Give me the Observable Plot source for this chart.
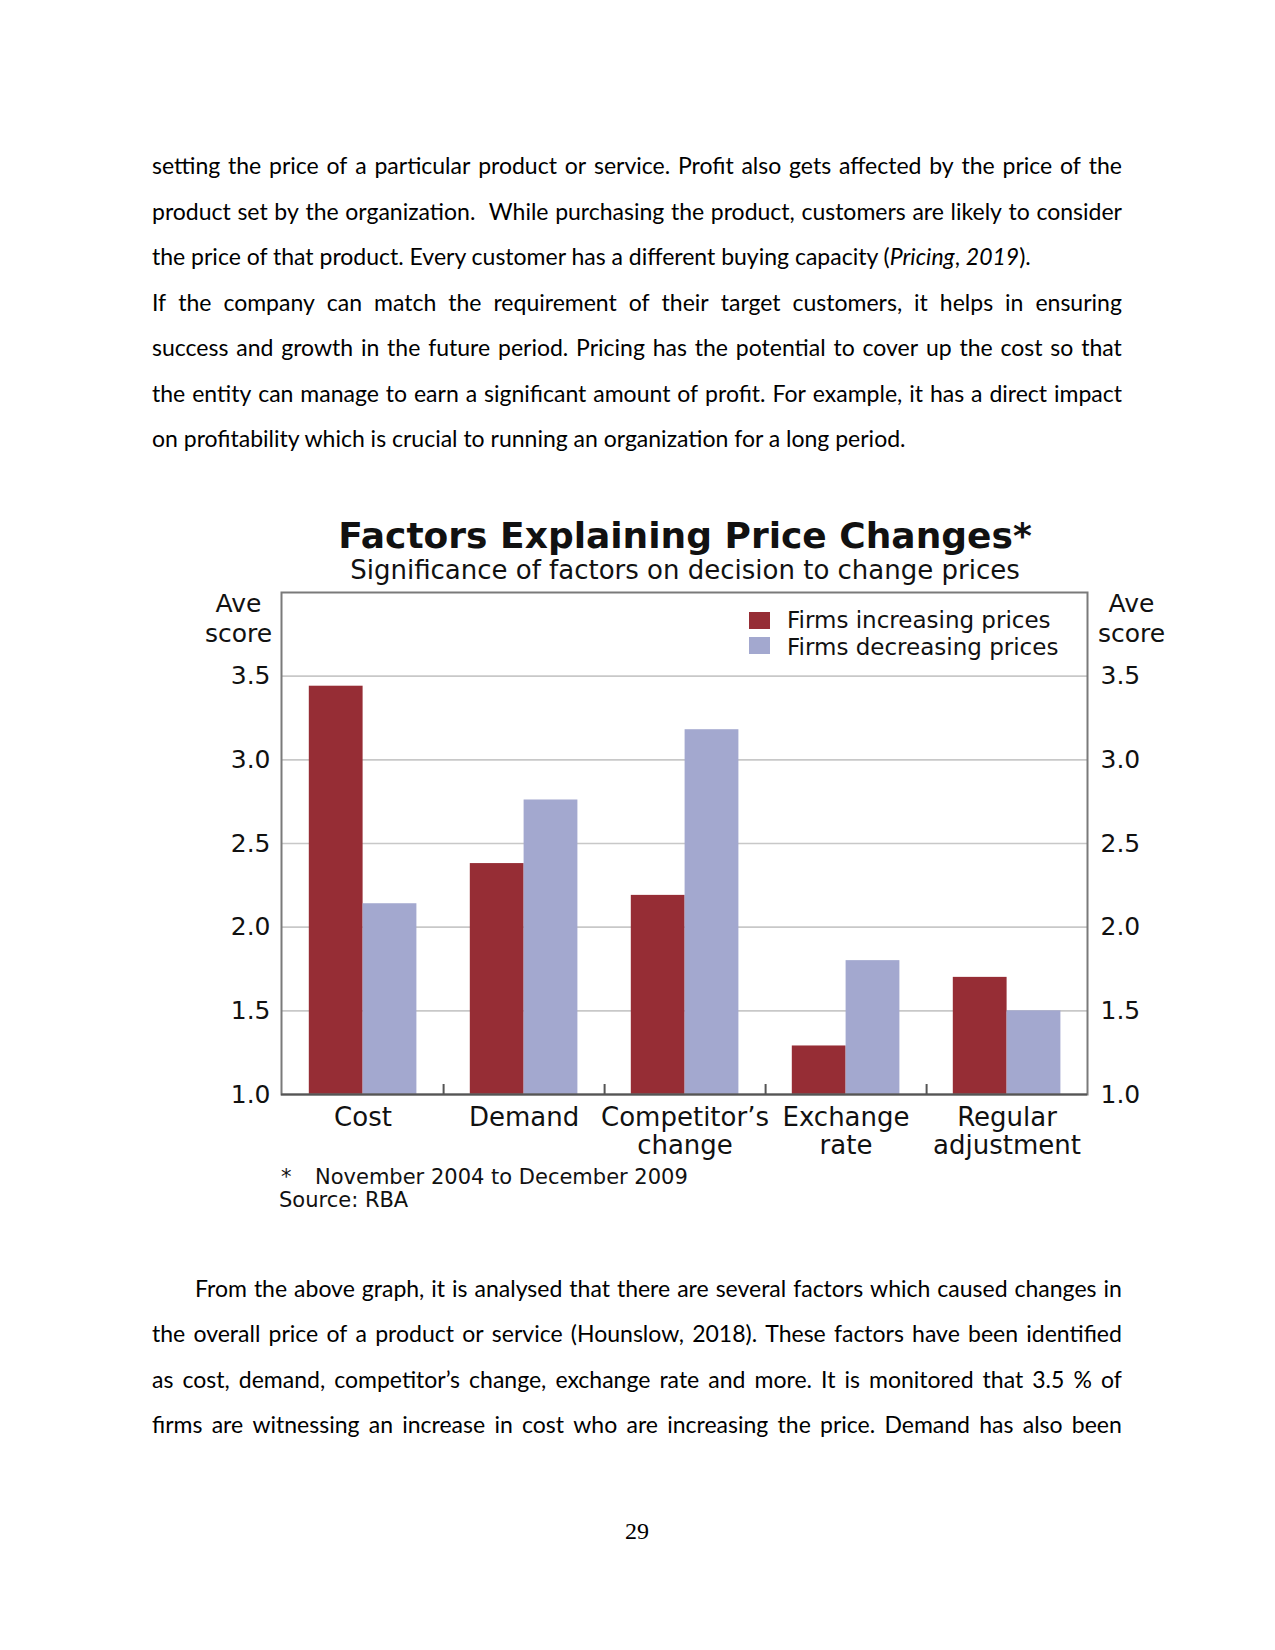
<!DOCTYPE html>
<html><head><meta charset="utf-8">
<script src="https://cdn.jsdelivr.net/npm/d3@7"></script>
<script src="https://cdn.jsdelivr.net/npm/@observablehq/plot@0.6"></script>
<style>
html,body{margin:0;padding:0;background:#fff;}
body{width:1275px;height:1650px;position:relative;overflow:hidden;}
.abs{position:absolute;white-space:nowrap;}
</style></head><body>
<script>
// ---------- chart data ----------
const categories = ["Cost", "Demand", "Competitor’s change", "Exchange rate", "Regular adjustment"];
const categoryLabels = ["Cost", "Demand", "Competitor’s\nchange", "Exchange\nrate", "Regular\nadjustment"];
const increasing = [3.44, 2.38, 2.19, 1.29, 1.70];
const decreasing = [2.14, 2.76, 3.18, 1.80, 1.50];
const seriesNames = ["Firms increasing prices", "Firms decreasing prices"];
const seriesColors = ["#962d35", "#a3a8cf"];
const yTicks = [1.0, 1.5, 2.0, 2.5, 3.0, 3.5];
const chartTitle = "Factors Explaining Price Changes*";
const chartSubtitle = "Significance of factors on decision to change prices";
const axisTitle = "Ave\nscore";
const footnoteMark = "*";
const footnoteText = "November 2004 to December 2009";
const sourceText = "Source: RBA";

// ---------- page text ----------
const para1 = [
  "setting the price of a particular product or service. Profit also gets affected by the price of the",
  "product set by the organization.  While purchasing the product, customers are likely to consider",
  "the price of that product. Every customer has a different buying capacity (<i>Pricing</i>, <i>2019</i>).",
  "If the company can match the requirement of their target customers, it helps in ensuring",
  "success and growth in the future period. Pricing has the potential to cover up the cost so that",
  "the entity can manage to earn a significant amount of profit. For example, it has a direct impact",
  "on profitability which is crucial to running an organization for a long period."
];
const para1Justify = [true, true, false, true, true, true, false];
const para2 = [
  "From the above graph, it is analysed that there are several factors which caused changes in",
  "the overall price of a product or service (Hounslow, 2018). These factors have been identified",
  "as cost, demand, competitor’s change, exchange rate and more. It is monitored that 3.5 % of",
  "firms are witnessing an increase in cost who are increasing the price. Demand has also been"
];
const para2Justify = [true, true, true, true];
const pageNumber = "29";

// ---------- helpers ----------
const FONTK = {"Lato": 0.887, "DejaVu Sans": 0.846, "Liberation Serif": 0.8375};
function place(html, {font, size, weight = "normal", baseline, x, anchor = "start", color = "#000"}) {
  const d = document.createElement("div");
  d.className = "abs";
  d.style.fontFamily = `"${font}"`;
  d.style.fontSize = size + "px";
  d.style.lineHeight = size + "px";
  d.style.fontWeight = weight;
  d.style.color = color;
  d.style.top = (baseline - FONTK[font] * size) + "px";
  d.style.left = x + "px";
  if (anchor === "middle") d.style.transform = "translateX(-50%)";
  if (anchor === "end") d.style.transform = "translateX(-100%)";
  d.innerHTML = html;
  document.body.appendChild(d);
  return d;
}
function measure(html, font, size) {
  const s = document.createElement("span");
  s.style.cssText = `position:absolute;visibility:hidden;white-space:pre;font-family:"${font}";font-size:${size}px;`;
  s.innerHTML = html.replace(/\s+/g, " ");
  document.body.appendChild(s);
  const w = s.getBoundingClientRect().width;
  s.remove();
  return w;
}
const BODY_FONT = "Lato", BODY_SIZE = 23, LEFT = 152, RIGHT = 1122;
const allLines = [...para1.map((t, i) => ({t, j: para1Justify[i], indent: 0})),
                  ...para2.map((t, i) => ({t, j: para2Justify[i], indent: i === 0 ? 43 : 0}))];
let scale = 1;
for (const L of allLines) {
  const w = measure(L.t, BODY_FONT, BODY_SIZE);
  const avail = RIGHT - LEFT - L.indent;
  scale = Math.min(scale, (avail - 8) / w);
}
function bodyLine(L, baseline) {
  const avail = RIGHT - LEFT - L.indent;
  const d = place("", {font: BODY_FONT, size: BODY_SIZE, baseline, x: LEFT + L.indent});
  d.style.transformOrigin = "0 0";
  d.style.transform = `scaleX(${scale})`;
  if (L.j) {
    d.style.display = "flex";
    d.style.justifyContent = "space-between";
    d.style.width = (avail / scale) + "px";
    let prev = null;
    for (const w of L.t.split(" ")) {
      if (w === "") { if (prev) prev.style.marginRight = "0.3em"; continue; }
      const s = document.createElement("span");
      s.innerHTML = w;
      d.appendChild(s);
      prev = s;
    }
  } else {
    d.innerHTML = L.t;
  }
}
const base1 = 174.5, base2 = 1297, step = 45.5;
allLines.slice(0, para1.length).forEach((L, i) => bodyLine(L, base1 + i * step));
allLines.slice(para1.length).forEach((L, i) => bodyLine(L, base2 + i * step));
place(pageNumber, {font: "Liberation Serif", size: 24, baseline: 1539, x: 637, anchor: "middle"});

// ---------- chart ----------
const rows = categories.map((c, i) => ({category: c, inc: increasing[i], dec: decreasing[i]}));
const labelOf = new Map(categories.map((c, i) => [c, categoryLabels[i]]));
const fmt = d3.format(".1f");
const chart = Plot.plot({
  width: 1275, height: 592,
  marginTop: 10, marginBottom: 80, marginLeft: 281, marginRight: 188,
  style: {fontFamily: "DejaVu Sans", fontSize: "26px", color: "#111", background: "transparent"},
  x: {domain: categories, padding: 0},
  y: {domain: [1, 4]},
  marks: [
    Plot.ruleY(yTicks.slice(1), {stroke: "#c8c8c8", strokeWidth: 1.6}),
    Plot.barY(rows, {x: "category", y1: 1, y2: "inc", fill: seriesColors[0], insetLeft: 26.8, insetRight: 80.4}),
    Plot.barY(rows, {x: "category", y1: 1, y2: "dec", fill: seriesColors[1], insetLeft: 80.6, insetRight: 26.6}),
    Plot.frame({stroke: "#7a7a7a", strokeWidth: 2}),
    Plot.ruleY([1], {stroke: "#555", strokeWidth: 2}),
    Plot.ruleX(categories.slice(0, -1), {x: d => d, dx: 80.6, insetTop: 492, stroke: "#555", strokeWidth: 2}),
    Plot.axisY(yTicks, {anchor: "left", tickSize: 0, tickPadding: 11, tickFormat: fmt, fontSize: 25, label: null}),
    Plot.axisY(yTicks, {anchor: "right", tickSize: 0, tickPadding: 13, tickFormat: fmt, fontSize: 25, label: null}),
    Plot.axisX({anchor: "bottom", tickSize: 0, tickPadding: 11.5, tickFormat: d => labelOf.get(d), fontSize: 26, lineHeight: 1.08, label: null}),
    Plot.text([axisTitle], {text: d => d, frameAnchor: "top-left", dx: -43, dy: -1, textAnchor: "middle", lineAnchor: "top", fontSize: 25, lineHeight: 1.18, fill: "#111"}),
    Plot.text([axisTitle], {text: d => d, frameAnchor: "top-right", dx: 44, dy: -1, textAnchor: "middle", lineAnchor: "top", fontSize: 25, lineHeight: 1.18, fill: "#111"})
  ]
});
chart.style.position = "absolute";
chart.style.left = "0px";
chart.style.top = "582px";
document.body.appendChild(chart);

// title & subtitle
place(chartTitle, {font: "DejaVu Sans", size: 36, weight: "bold", baseline: 548, x: 685, anchor: "middle", color: "#111"});
place(chartSubtitle, {font: "DejaVu Sans", size: 26, baseline: 579, x: 685, anchor: "middle", color: "#111"});

// legend
seriesNames.forEach((name, i) => {
  const sw = document.createElement("div");
  sw.className = "abs";
  sw.style.cssText += `left:749px;top:${611.5 + i * 25}px;width:21px;height:17px;background:${seriesColors[i]};`;
  document.body.appendChild(sw);
  place(name, {font: "DejaVu Sans", size: 23, baseline: 628.5 + i * 26.5, x: 787, color: "#111"});
});

// footnote
place(footnoteMark, {font: "DejaVu Sans", size: 21, baseline: 1185, x: 281, color: "#111"});
place(footnoteText, {font: "DejaVu Sans", size: 21, baseline: 1185, x: 315, color: "#111"});
place(sourceText, {font: "DejaVu Sans", size: 21, baseline: 1207.5, x: 279, color: "#111"});
</script>
</body></html>
